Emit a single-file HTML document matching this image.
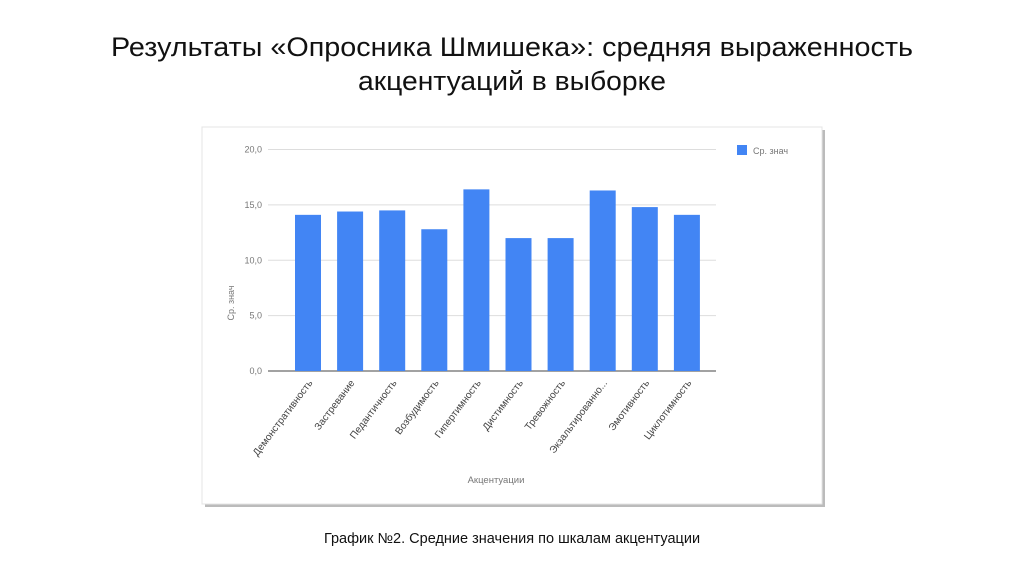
<!DOCTYPE html>
<html><head><meta charset="utf-8"><style>
body{margin:0;background:#fff;width:1024px;height:574px;overflow:hidden;font-family:"Liberation Sans",sans-serif}
</style></head><body>
<svg width="1024" height="574" style="position:absolute;left:0;top:0">
<text x="512" y="56" text-anchor="middle" font-size="27" fill="#111" textLength="802" lengthAdjust="spacingAndGlyphs" font-family="Liberation Sans Narrow, Liberation Sans, sans-serif">Результаты «Опросника Шмишека»: средняя выраженность</text>
<text x="512" y="90" text-anchor="middle" font-size="27" fill="#111" textLength="308" lengthAdjust="spacingAndGlyphs" font-family="Liberation Sans Narrow, Liberation Sans, sans-serif">акцентуаций в выборке</text>
<rect x="205" y="130" width="620" height="377" fill="#bbb"/>
<rect x="202" y="127" width="620" height="377" fill="#fff" stroke="#e4e4e4"/>
<g id="chart"></g>
<rect x="737" y="145" width="10" height="10" fill="#4285f4"/>
<text x="753" y="154" font-size="9" fill="#777">Ср. знач</text>
<text x="496" y="483" text-anchor="middle" font-size="9.5" fill="#777">Акцентуации</text>
<text transform="translate(234,303) rotate(-90)" text-anchor="middle" font-size="9" fill="#777">Ср. знач</text>
<text x="512" y="543" text-anchor="middle" font-size="14.5" fill="#111">График №2. Средние значения по шкалам акцентуации</text>
</svg>
<script>
const categories=["Демонстративность","Застревание","Педантичность","Возбудимость","Гипертимность","Дистимность","Тревожность","Экзальтированно...","Эмотивность","Циклотимность"];
const values=[14.1,14.4,14.5,12.8,16.4,12.0,12.0,16.3,14.8,14.1];
const yTicks=[0,5,10,15,20];
const yTickLabels=["0,0","5,0","10,0","15,0","20,0"];
const NS="http://www.w3.org/2000/svg";
const g=document.getElementById('chart');
const x0=268,x1=716,y0=371,y1=149.5,yMax=20;
const y=v=>y0-(v/yMax)*(y0-y1);
const xc=i=>308+i*42.1;
function mk(t,a){const e=document.createElementNS(NS,t);for(const k in a)e.setAttribute(k,a[k]);g.appendChild(e);return e;}
yTicks.forEach((t,i)=>{
 const l=mk('line',{x1:x0,x2:x1,y1:y(t),y2:y(t),stroke:i===0?'#444':'#ddd','stroke-width':1});
 
 
 const tx=mk('text',{x:x0-6,y:y(t)+3,'text-anchor':'end','font-size':9,fill:'#777'});
 tx.textContent=yTickLabels[i];
 
 
});
values.forEach((v,i)=>{
 const r=mk('rect',{x:xc(i)-13,y:y(v),width:26,height:y0-y(v),fill:'#4285f4'});
 
 
 const tx=mk('text',{transform:`translate(${xc(i)+5},${y0+12}) rotate(-53)`,'text-anchor':'end','font-size':10,fill:'#444'});
 tx.textContent=categories[i];
 
 
});
</script>
</body></html>
